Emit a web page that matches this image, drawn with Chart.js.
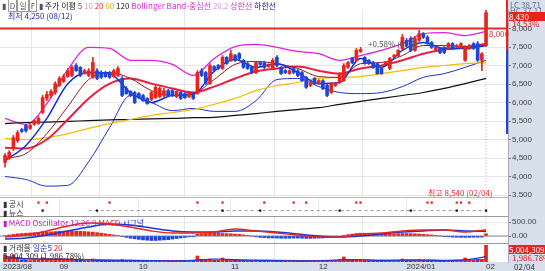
<!DOCTYPE html>
<html>
<head>
<meta charset="utf-8">
<script src="https://cdn.jsdelivr.net/npm/chart.js@4.4.1/dist/chart.umd.min.js"></script>
<style>
  body { margin: 0; width: 545px; height: 271px; overflow: hidden; background: #fff; font-family: "Noto Sans CJK KR", "Noto Sans", sans-serif; }
  .bg { position: absolute; background: #d7dfea; }
  .sep { position: absolute; left: 0; width: 508px; height: 1px; background: #b8b8b8; }
  .pane { position: absolute; left: 0; }
  .t { position: absolute; font-size: 8px; line-height: 9px; white-space: nowrap; color: #333; }
</style>
</head>
<body>
<div class="bg" style="left:508px;top:0;width:37px;height:271px"></div>
<div class="bg" style="left:0;top:262px;width:545px;height:9px"></div>

<div class="pane" style="top:10px"><canvas id="cMain" width="545" height="187"></canvas></div>
<div class="pane" style="top:197px"><canvas id="cEvt" width="545" height="20"></canvas></div>
<div class="pane" style="top:217px"><canvas id="cMacd" width="545" height="26"></canvas></div>
<div class="pane" style="top:243px"><canvas id="cVol" width="545" height="28"></canvas></div>

<div class="sep" style="top:197px"></div>
<div class="sep" style="top:216px;background:#999"></div>
<div class="sep" style="top:243px;background:#999"></div>
<!-- today's range marker on the axis edge -->
<div style="position:absolute;left:506px;top:0;width:2px;height:50px;background:#e8241c"></div>
<div style="position:absolute;left:506px;top:50px;width:2px;height:84px;background:#1c46d8"></div>

<!-- legend rows -->
<div class="t" style="left:2px;top:1px;color:#555">▮ <span style="border:1px solid #999;padding:0 1px">D</span><span style="border:1px solid #999;padding:0 1px">일</span><span style="border:1px solid #999;padding:0 1px">F</span> ▮ <span style="color:#222">주가 이평</span> <span style="color:#555">5</span> <span style="color:#e0a0a0">10</span> <span style="color:#e03030">20</span> <span style="color:#d0b000">60</span> <span style="color:#222">120</span> <span style="color:#d030d0">Bollinger Band-중심선</span> <span style="color:#e090e0">20,2</span> <span style="color:#c040c0">상한선</span> <span style="color:#202080">하한선</span></div>
<div class="t" style="left:8px;top:11px;color:#2030a0">최저 4,250 (08/12)</div>
<div class="t" style="left:368px;top:39px;color:#555">+0.58% (0.00)</div>
<div class="t" style="left:489px;top:29px;color:#e03030">8,000</div>
<div class="t" style="left:428px;top:188px;color:#e03030">최고 8,540 (02/04)</div>

<div class="t" style="left:3px;top:199px;color:#333">▮ 공시</div>
<div class="t" style="left:3px;top:208px;color:#333">▮ 뉴스</div>
<div class="t" style="left:3px;top:218px;color:#c020c0">▮ MACD Oscillator 12,26,9 <span style="color:#e02020">MACD</span> <span style="color:#2030c0">시그널</span></div>
<div class="t" style="left:3px;top:243px;color:#333">▮ 거래율 <span style="color:#2030c0">일순5</span> <span style="color:#e02020">20</span></div>
<div class="t" style="left:3px;top:251px;color:#333">5,004,309 (1,986.78%)</div>

<!-- right side boxes -->
<div class="t" style="left:510px;top:0px;color:#6070a0">LC 38.71</div>
<div class="t" style="left:510px;top:6px;color:#6070a0">HC 37.11</div>
<div class="t" style="left:509px;top:12px;width:36px;background:#e8241c;color:#fff">8,430</div>
<div class="t" style="left:512px;top:19px;color:#e02020">14.53%</div>
<div class="t" style="left:509px;top:245px;width:36px;background:#e8241c;color:#fff;overflow:hidden">5,004,309</div>
<div class="t" style="left:512px;top:253px;color:#e02020">1,986.78%</div>
<div class="t" style="left:514px;top:262px;color:#333">02/04</div>

<script>
// ---- candle data (one entry per trading day) ----
const open = [4380,4490,4760,4970,5270,5380,5300,5410,5430,5730,
  6110,6190,6270,6460,6570,6700,6730,7000,6950,6780,
  6730,6680,6860,6810,6810,6810,6700,6730,6650,6380,
  6300,6270,6240,6190,6110,6080,6130,6160,6190,6320,
  6320,6160,6270,6240,6160,6240,6240,6860,6810,6510,
  6970,7000,6920,7220,7140,7270,7320,7140,7050,6950,
  6810,7080,7080,6970,6920,7220,6950,6860,6780,6920,
  6860,6810,6680,6460,6650,6510,6590,6460,6270,6460,
  6540,6590,6950,7190,7140,7380,7220,7140,7080,7050,
  6920,7050,6920,7240,7270,7460,7680,7730,7410,7680,
  7860,7760,7620,7430,7460,7490,7460,7590,7510,7490,
  7140,7460,7590,7590,7140,7540];
const close = [4570,4650,5050,5190,5220,5240,5380,5510,5570,6130,
  6220,6300,6510,6650,6700,6860,6950,6860,6730,6860,
  6860,7080,6650,6680,6700,6680,6860,6920,6190,6240,
  6190,6000,6130,6050,5970,6270,6410,6380,6320,6190,
  6190,6300,6110,6130,6270,6110,6810,6730,6510,7000,
  6860,6920,7220,7050,7320,7140,7190,6950,6920,6810,
  7080,7030,6950,7030,7140,7000,6780,6810,6860,6810,
  6730,6590,6410,6540,6510,6590,6380,6190,6510,6510,
  6780,7000,7080,7080,7410,7430,7050,7050,6950,6780,
  6780,7080,7190,7270,7410,7760,7540,7410,7730,7860,
  7760,7590,7490,7490,7350,7350,7590,7460,7540,7590,
  7490,7540,7460,7140,7320,8430];
const high = [4620,4700,5110,5240,5300,5410,5430,5540,5620,6190,
  6300,6350,6560,6700,6760,6920,7000,7050,6970,6900,
  6920,7220,6920,6860,6840,6840,6900,6970,6700,6430,
  6320,6300,6270,6220,6130,6300,6460,6430,6380,6350,
  6350,6320,6300,6270,6300,6270,6860,6920,6840,7050,
  7000,7030,7270,7240,7410,7300,7350,7160,7080,6970,
  7110,7110,7110,7050,7190,7270,6970,6890,6890,6950,
  6890,6840,6700,6570,6680,6620,6620,6490,6540,6540,
  6810,7050,7110,7220,7460,7490,7240,7160,7110,7080,
  6950,7110,7220,7300,7430,7840,7730,7780,7780,7950,
  7890,7810,7650,7510,7490,7510,7620,7620,7570,7620,
  7540,7570,7620,7650,7350,8540];
const low = [4250,4460,4700,4920,5190,5200,5270,5380,5410,5700,
  6050,6130,6220,6430,6540,6680,6700,6840,6700,6760,
  6700,6650,6620,6650,6680,6650,6680,6700,6160,6220,
  6160,5970,6110,6030,5950,6050,6110,6130,6160,6160,
  6160,6130,6080,6110,6130,6080,6220,6700,6490,6490,
  6840,6890,6890,7030,7110,7110,7160,6920,6890,6780,
  6780,7000,6920,6950,6890,6970,6760,6780,6760,6780,
  6700,6570,6380,6430,6490,6490,6350,6160,6240,6430,
  6510,6570,6920,7050,7110,7350,7030,7030,6920,6760,
  6760,7030,6890,7220,7240,7430,7510,7380,7380,7650,
  7730,7570,7460,7410,7320,7320,7430,7430,7490,7460,
  7110,7430,7430,7110,6860,7510];
const volume = [2200000,1500000,2100000,1400000,600000,500000,450000,700000,600000,1300000,
  900000,700000,800000,900000,700000,800000,900000,600000,500000,450000,
  450000,900000,500000,400000,350000,350000,400000,450000,700000,500000,
  400000,500000,350000,350000,400000,450000,500000,400000,350000,300000,
  300000,300000,350000,300000,300000,350000,1800000,700000,600000,900000,
  500000,450000,1200000,600000,700000,500000,450000,500000,400000,400000,
  600000,400000,350000,300000,500000,450000,400000,300000,300000,300000,
  300000,450000,500000,350000,350000,300000,400000,500000,450000,350000,
  700000,1500000,700000,500000,800000,600000,450000,400000,350000,400000,
  400000,450000,500000,450000,500000,900000,600000,550000,600000,700000,
  500000,450000,400000,350000,400000,400000,500000,450000,400000,500000,
  1200000,500000,450000,700000,600000,5004309];

// ---- indicator lines, read every 5 sessions ----
const lineIdx = [0,5,10,15,20,25,30,35,40,45,50,55,60,65,70,75,80,85,90,95,100,105,110,115];
const ma5   = [4430,4840,5570,6510,6810,6780,6270,6000,6190,6220,6840,7160,6950,7050,6810,6510,6540,7190,6950,7410,7620,7460,7460,7540];
const ma10  = [4490,4620,5160,5890,6620,6810,6650,6320,6190,6240,6620,7030,7110,7050,6920,6700,6680,7050,7080,7270,7540,7540,7510,7540];
const ma20  = [4780,4760,5000,5540,6110,6510,6650,6510,6380,6270,6430,6650,6840,6920,6970,6860,6780,6920,7000,7140,7320,7430,7490,7590];
const ma60  = [5030,5000,5050,5160,5300,5430,5540,5650,5730,5810,5950,6110,6320,6460,6540,6650,6680,6700,6780,6860,6950,7000,7050,7080];
const ma120 = [5430,5460,5470,5490,5510,5530,5540,5560,5570,5590,5600,5650,5700,5760,5810,5860,5950,6030,6110,6190,6270,6380,6510,6650];
const bbUpper = [5570,5410,5970,6890,7490,7460,7140,7140,7030,6730,7190,7510,7570,7490,7380,7320,7140,7270,7410,7590,7860,7890,7810,7920];
const bbLower = [4000,3920,3740,3760,4400,5320,6190,6000,5780,5840,5760,5760,6050,6620,6650,6430,6270,6240,6270,6430,6680,6780,6950,7140];

const macd   = [-36,36,180,357,464,430,320,180,107,107,143,250,180,107,36,-36,-36,71,107,180,214,214,143,214];
const signal = [-107,-71,36,180,320,430,390,285,180,143,143,180,180,143,71,0,-36,0,71,143,180,214,180,160];
const osc = [20,40,60,80,90,100,110,120,130,140,
  145,150,160,170,175,180,180,175,170,160,
  150,140,120,100,80,60,40,20,-20,-50,
  -80,-100,-120,-140,-150,-160,-160,-150,-140,-130,
  -110,-90,-70,-50,-30,-10,60,80,90,100,
  100,95,90,85,80,70,60,40,20,0,
  -30,-50,-60,-70,-70,-75,-80,-80,-80,-75,
  -75,-80,-85,-85,-80,-75,-70,-60,-50,-40,
  -20,20,50,70,90,100,100,95,90,85,
  80,75,75,80,85,90,90,85,80,70,
  60,50,40,20,0,-20,-30,-40,-45,-50,
  -50,-50,-45,-45,-40,80];

const volIdx = [0,5,10,15,20,25,30,35,40,45,50,55,60,65,70,75,80,85,90,95,100,105,110,115];
const volMa5  = [1700000,900000,850000,800000,600000,420000,420000,420000,330000,500000,900000,700000,450000,420000,320000,380000,650000,750000,400000,550000,600000,420000,650000,1600000];
const volMa20 = [1100000,1000000,950000,850000,750000,650000,550000,450000,420000,450000,600000,650000,600000,500000,420000,400000,480000,600000,550000,520000,560000,520000,540000,800000];

const disclosureIdx = [8,10,25,46,52,62,69,72,84,85,101,102,108,109,111];
const newsIdx = [9,22,52,61,80,97,108,115];

const priceTicks = [3500,4000,4500,5000,5500,6000,6500,7000,7500,8000];
const macdTicks = [0,500];
const monthIdx = [-0.5,13,32,54,75,96,115];
const monthLabels = ['2023/08','09','10','11','12','2024/01','02'];
const resistance = 8000;

// ---- shared layout ----
const XMIN = -1.2, XMAX = 120.25;
const idx = open.map((_, i) => i);
const up = idx.map(i => close[i] >= open[i]);
const RED = '#e8241c', BLUE = '#1c46d8';
const GRID = '#e6e6e6';

function pts(xs, ys) { return xs.map((x, k) => ({ x: x, y: ys[k] })); }
function line(data, color, width, extra) {
  return Object.assign({ type: 'line', data: data, borderColor: color, borderWidth: width,
    pointRadius: 0, cubicInterpolationMode: 'monotone', fill: false, order: 5 }, extra || {});
}
function todayLine(lo, hi) {
  return line([{ x: 115, y: lo }, { x: 115, y: hi }], '#f4a3a3', 1, { borderDash: [1, 2], order: 9, cubicInterpolationMode: 'default' });
}
function xScale(withLabels) {
  return {
    type: 'linear', min: XMIN, max: XMAX, offset: false,
    grid: { color: (c) => (c.tick && c.tick.value === 115) || (c.tick && c.tick.value < 0) ? 'rgba(0,0,0,0)' : GRID, drawTicks: false },
    border: { display: false },
    afterBuildTicks: (s) => { s.ticks = monthIdx.map(v => ({ value: v })); },
    ticks: {
      display: withLabels, autoSkip: false, maxRotation: 0, align: 'start', padding: 0,
      font: { size: 8 }, color: '#333',
      callback: (v) => { const k = monthIdx.indexOf(v); return k >= 0 ? monthLabels[k] : ''; }
    },
    afterFit: (s) => { s.height = withLabels ? 9 : 0; s.paddingLeft = 0; s.paddingRight = 0; }
  };
}
function yScale(min, max, ticks, fmt) {
  return {
    position: 'right', min: min, max: max,
    grid: { color: GRID, tickLength: 3, tickColor: '#777' },
    border: { color: '#aab', width: 1 },
    afterBuildTicks: (s) => { s.ticks = ticks.map(v => ({ value: v })); },
    ticks: { font: { size: 8 }, color: '#444', padding: 1, callback: fmt },
    afterFit: (s) => { s.width = 37; s.paddingTop = 0; s.paddingBottom = 0; }
  };
}
const baseOpts = (scales) => ({
  responsive: false, animation: false,
  layout: { padding: 0, autoPadding: false },
  plugins: { legend: { display: false }, tooltip: { enabled: false } },
  scales: scales
});

// ---- main price pane ----
const PMIN = 3446, PMAX = 8500;
new Chart(document.getElementById('cMain'), {
  type: 'bar',
  data: {
    datasets: [
      { data: idx.map(i => ({ x: i, y: [open[i], close[i]] })), backgroundColor: idx.map(i => up[i] ? RED : BLUE),
        barThickness: 3, minBarLength: 1, grouped: false, order: 0 },
      { data: idx.map(i => ({ x: i, y: [low[i], high[i]] })), backgroundColor: idx.map(i => up[i] ? RED : BLUE),
        barThickness: 1, grouped: false, order: 1 },
      line(pts(lineIdx, ma5), '#1030e0', 1.5),
      line(pts(lineIdx, ma10), '#8a1c1c', 1),
      line(pts(lineIdx, ma20), '#ee1c40', 2),
      line(pts(lineIdx, ma60), '#f2bc0a', 1.2),
      line(pts(lineIdx, ma120), '#111', 1.2),
      line(pts(lineIdx, bbUpper), '#e020e0', 1.3),
      line(pts(lineIdx, bbLower), '#2030d0', 1),
      line([{ x: XMIN, y: resistance }, { x: XMAX, y: resistance }], '#e02a2a', 2, { order: 3 }),
      todayLine(PMIN, PMAX)
    ]
  },
  options: baseOpts({
    x: xScale(false),
    y: yScale(PMIN, PMAX, priceTicks, (v) => v.toLocaleString('en-US'))
  })
});

// ---- disclosure / news markers ----
new Chart(document.getElementById('cEvt'), {
  type: 'scatter',
  data: {
    datasets: [
      { data: disclosureIdx.map(i => ({ x: i, y: 1 })), pointStyle: 'rect', pointRadius: 1.6, backgroundColor: RED, borderWidth: 0 },
      { data: newsIdx.map(i => ({ x: i, y: 0 })), pointStyle: 'rect', pointRadius: 1.6, backgroundColor: '#111', borderWidth: 0 },
      line([{ x: 20, y: 0 }, { x: 115, y: 0 }], '#999', 1, { borderDash: [3, 3], cubicInterpolationMode: 'default' }),
      todayLine(-1, 2)
    ]
  },
  options: baseOpts({
    x: xScale(false),
    y: Object.assign(yScale(-0.8, 1.7, [], () => ''), { grid: { display: false } })
  })
});

// ---- MACD ----
new Chart(document.getElementById('cMacd'), {
  type: 'bar',
  data: {
    datasets: [
      { data: idx.map(i => ({ x: i, y: osc[i] })), backgroundColor: idx.map(i => osc[i] >= 0 ? RED : BLUE),
        barThickness: 3, grouped: false, order: 6 },
      line(pts(lineIdx, macd), '#e8241c', 1.5),
      line(pts(lineIdx, signal), '#1c36e0', 1.5),
      line([{ x: XMIN, y: 0 }, { x: XMAX, y: 0 }], '#888', 1, { order: 7 }),
      todayLine(-300, 700)
    ]
  },
  options: baseOpts({
    x: xScale(false),
    y: yScale(-250, 680, macdTicks, (v) => v.toFixed(2))
  })
});

// ---- volume ----
new Chart(document.getElementById('cVol'), {
  type: 'bar',
  data: {
    datasets: [
      { data: idx.map(i => ({ x: i, y: volume[i] })), backgroundColor: idx.map(i => up[i] ? RED : BLUE),
        barThickness: 3, grouped: false, order: 6 },
      line(pts(volIdx, volMa5), '#1c36e0', 1.2),
      line(pts(volIdx, volMa20), '#e8241c', 1.2),
      todayLine(0, 6000000)
    ]
  },
  options: baseOpts({
    x: xScale(true),
    y: Object.assign(yScale(0, 5700000, [], () => ''), { grid: { display: false } })
  })
});
</script>
</body>
</html>
